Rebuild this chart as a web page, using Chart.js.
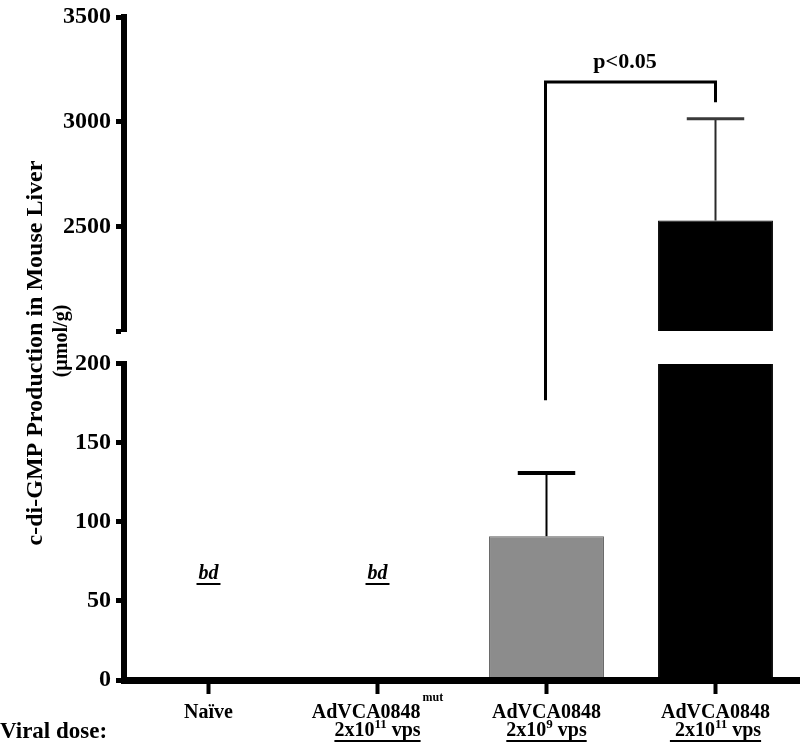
<!DOCTYPE html>
<html>
<head>
<meta charset="utf-8">
<script src="https://cdn.jsdelivr.net/npm/chart.js@4.4.1/dist/chart.umd.min.js"></script>
<style>
  html, body { margin: 0; padding: 0; background: #fff; }
  #wrap { position: relative; width: 800px; height: 747px; }
</style>
</head>
<body>
<div id="wrap"><canvas id="chart"></canvas></div>
<script>
// x axis groups (two text lines each, with superscripts)
var categories = ['Naïve', 'AdVCA0848', 'AdVCA0848', 'AdVCA0848'];
var categorySup = ['', 'mut', '', ''];
var doseBase = ['', '2x10', '2x10', ' 2x10'];
var doseExp = ['', '11', '9', '11'];
var doseUnit = ['', ' vps', ' vps', ' vps'];

// mean c-di-GMP (umol/g) and top of each error bar
var means = [null, null, 91, 2528];
var errTops = [null, null, 131, 3014];
var belowDetection = [true, true, false, false];
var barColors = ['#8c8c8c', '#8c8c8c', '#8c8c8c', '#000000'];
var barBorders = ['#5e5e5e', '#5e5e5e', '#5e5e5e', '#000000'];

// broken y axis, lower and upper piece
var lowTicks = [0, 50, 100, 150, 200];
var highTicks = [2000, 2500, 3000, 3500];

// significance bracket between groups 2 and 3
var sigFrom = 2, sigTo = 3;
var sigLeftBottom = 178, sigTop = 3190, sigRightBottom = 3100;
var sigText = 'p<0.05';

var yTitle = ['c-di-GMP Production in Mouse Liver', '(\u00b5mol/g)'];
var doseTitle = 'Viral dose:';

var SERIF = '"Liberation Serif", "Times New Roman", serif';
var lowMax = lowTicks[lowTicks.length - 1];

function yPixel(chart, v) {
    return v > lowMax ? chart.scales.yHigh.getPixelForValue(v) : chart.scales.yLow.getPixelForValue(v);
}

// each bar dataset only shows inside its own piece of the axis
var clipPlugin = {
    id: 'axisClip',
    beforeDatasetDraw: function(chart, args) {
        var ys = chart.scales[args.meta.yAxisID], area = chart.chartArea;
        chart.ctx.save();
        chart.ctx.beginPath();
        chart.ctx.rect(area.left, ys.top, area.right - area.left, ys.bottom - ys.top);
        chart.ctx.clip();
    },
    afterDatasetDraw: function(chart) {
        chart.ctx.restore();
    }
};

var marksPlugin = {
    id: 'marks',
    afterDatasetsDraw: function(chart) {
        var ctx = chart.ctx, xs = chart.scales.x;
        var meta = chart.getDatasetMeta(0);
        ctx.save();
        // error bars
        for (var i = 0; i < means.length; i++) {
            if (means[i] === null) continue;
            var x = xs.getPixelForValue(i);
            var half = meta.data[i].width / 4;
            var y0 = yPixel(chart, means[i]), y1 = yPixel(chart, errTops[i]);
            ctx.strokeStyle = i === 3 ? '#2a2a2a' : '#000';
            ctx.lineWidth = 2;
            ctx.beginPath(); ctx.moveTo(x, y0); ctx.lineTo(x, y1); ctx.stroke();
            ctx.lineWidth = i === 3 ? 3 : 4;
            ctx.strokeStyle = i === 3 ? '#3a3a3a' : '#000';
            ctx.beginPath(); ctx.moveTo(x - half, y1); ctx.lineTo(x + half, y1); ctx.stroke();
        }
        // significance bracket
        var xa = xs.getPixelForValue(sigFrom) - 1, xb = xs.getPixelForValue(sigTo);
        ctx.strokeStyle = '#000';
        ctx.lineWidth = 3;
        ctx.lineCap = 'square';
        ctx.beginPath();
        ctx.moveTo(xa, yPixel(chart, sigLeftBottom));
        ctx.lineTo(xa, yPixel(chart, sigTop));
        ctx.lineTo(xb, yPixel(chart, sigTop));
        ctx.lineTo(xb, yPixel(chart, sigRightBottom));
        ctx.stroke();
        ctx.restore();
    }
};

var textPlugin = {
    id: 'figureText',
    afterDraw: function(chart) {
        var ctx = chart.ctx, xs = chart.scales.x, low = chart.scales.yLow;
        ctx.save();
        ctx.fillStyle = '#000';
        ctx.strokeStyle = '#000';
        ctx.textBaseline = 'alphabetic';

        // rotated y title
        ctx.save();
        ctx.translate(42, 353);
        ctx.rotate(-Math.PI / 2);
        ctx.textAlign = 'center';
        ctx.font = 'bold 24px ' + SERIF;
        ctx.fillText(yTitle[0], 0, 0);
        ctx.restore();
        ctx.save();
        ctx.translate(67, 341);
        ctx.rotate(-Math.PI / 2);
        ctx.textAlign = 'center';
        ctx.font = 'bold 20px ' + SERIF;
        ctx.fillText(yTitle[1], 0, 0);
        ctx.restore();

        ctx.textAlign = 'left';
        for (var i = 0; i < categories.length; i++) {
            var cx = xs.getPixelForValue(i);
            // first line + superscript
            ctx.font = 'bold 20px ' + SERIF;
            var w1 = ctx.measureText(categories[i]).width;
            ctx.font = 'bold 12px ' + SERIF;
            var ws = categorySup[i] ? ctx.measureText(categorySup[i]).width + 2 : 0;
            var sx = cx - (w1 + ws) / 2;
            ctx.font = 'bold 20px ' + SERIF;
            ctx.fillText(categories[i], sx, 718);
            if (ws) {
                ctx.font = 'bold 12px ' + SERIF;
                ctx.fillText(categorySup[i], sx + w1 + 2, 701);
            }
            // second line: dose, underlined
            if (doseBase[i]) {
                ctx.font = 'bold 20px ' + SERIF;
                var wb = ctx.measureText(doseBase[i]).width;
                var wu = ctx.measureText(doseUnit[i]).width;
                ctx.font = 'bold 13px ' + SERIF;
                var we = ctx.measureText(doseExp[i]).width;
                var dx = cx - (wb + we + wu) / 2;
                ctx.font = 'bold 20px ' + SERIF;
                ctx.fillText(doseBase[i], dx, 736);
                ctx.fillText(doseUnit[i], dx + wb + we, 736);
                ctx.font = 'bold 13px ' + SERIF;
                ctx.fillText(doseExp[i], dx + wb, 728);
                ctx.lineWidth = 2;
                ctx.beginPath();
                ctx.moveTo(dx, 741);
                ctx.lineTo(dx + wb + we + wu, 741);
                ctx.stroke();
            }
            // below detection
            if (belowDetection[i]) {
                ctx.font = 'italic bold 20px ' + SERIF;
                var wbd = ctx.measureText('bd').width;
                var by = low.getPixelForValue(lowTicks[1]) - 22;
                ctx.fillText('bd', cx - wbd / 2, by);
                ctx.lineWidth = 2;
                ctx.beginPath();
                ctx.moveTo(cx - wbd / 2 - 2, by + 5);
                ctx.lineTo(cx + wbd / 2 + 2, by + 5);
                ctx.stroke();
            }
        }

        ctx.font = 'bold 23px ' + SERIF;
        ctx.fillText(doseTitle, 0, 738);

        // p value over the bracket
        ctx.textAlign = 'center';
        ctx.font = 'bold 22px ' + SERIF;
        var px = (xs.getPixelForValue(sigFrom) + xs.getPixelForValue(sigTo)) / 2 - 6;
        ctx.fillText(sigText, px, yPixel(chart, sigTop) - 14);
        ctx.restore();
    }
};

var tickFont = { family: SERIF, size: 24, weight: 'bold', lineHeight: 1 };

var ctx = document.getElementById('chart');
var chart = new Chart(ctx, {
    type: 'bar',
    data: {
        labels: categories,
        datasets: [{
            data: means,
            yAxisID: 'yLow',
            backgroundColor: barColors,
            borderColor: barBorders,
            borderWidth: 1,
            grouped: false,
            barPercentage: 0.68,
            categoryPercentage: 1
        }, {
            data: means,
            yAxisID: 'yHigh',
            backgroundColor: barColors,
            borderColor: barBorders,
            borderWidth: 1,
            grouped: false,
            barPercentage: 0.68,
            categoryPercentage: 1
        }]
    },
    options: {
        responsive: true,
        maintainAspectRatio: false,
        animation: false,
        layout: { padding: { top: 10, right: 0, bottom: 0, left: 0 } },
        plugins: {
            legend: { display: false },
            tooltip: { enabled: false }
        },
        scales: {
            x: {
                type: 'category',
                offset: true,
                ticks: { display: false },
                grid: { drawOnChartArea: false, drawTicks: true, tickLength: 14, tickWidth: 4, tickColor: '#000', offset: false },
                border: { display: true, width: 7, color: '#000', z: 1 },
                afterFit: function(s) { s.height = 67; }
            },
            yLow: {
                type: 'linear',
                position: 'left',
                stack: 'y',
                stackWeight: 318,
                weight: 0,
                min: lowTicks[0],
                max: lowMax,
                ticks: { stepSize: lowTicks[1] - lowTicks[0], font: tickFont, color: '#000', padding: 5 },
                grid: { drawOnChartArea: false, tickLength: 8, tickWidth: 5, tickColor: '#000' },
                border: { display: true, width: 6, color: '#000', z: 1 },
                afterFit: function(s) { s.width = 124; }
            },
            yGap: {
                type: 'linear',
                position: 'left',
                stack: 'y',
                stackWeight: 33,
                weight: 1,
                min: 0,
                max: 1,
                ticks: { display: false },
                grid: { display: false, drawTicks: false },
                border: { display: false },
                afterFit: function(s) { s.width = 124; }
            },
            yHigh: {
                type: 'linear',
                position: 'left',
                stack: 'y',
                stackWeight: 316,
                weight: 2,
                min: highTicks[0],
                max: highTicks[highTicks.length - 1],
                ticks: {
                    stepSize: highTicks[1] - highTicks[0],
                    font: tickFont,
                    color: '#000',
                    padding: 5,
                    callback: function(v) { return v === highTicks[0] ? '' : v; }
                },
                grid: { drawOnChartArea: false, tickLength: 8, tickWidth: 5, tickColor: '#000' },
                border: { display: true, width: 6, color: '#000', z: 1 },
                afterFit: function(s) { s.width = 124; }
            }
        }
    },
    plugins: [clipPlugin, marksPlugin, textPlugin]
});
</script>
</body>
</html>
